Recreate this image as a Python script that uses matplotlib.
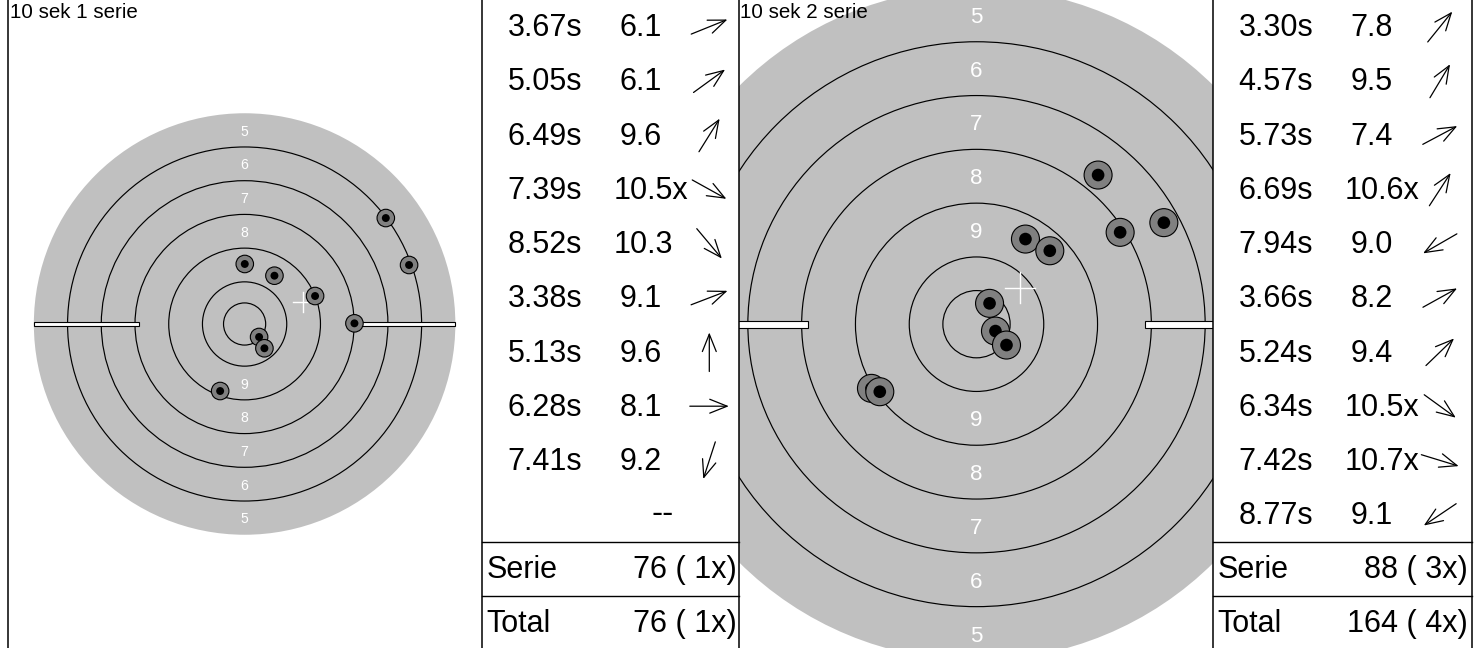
import matplotlib
matplotlib.use("Agg")
import matplotlib.pyplot as plt
from matplotlib.patches import Circle, Rectangle, FancyArrowPatch
import numpy as np

plt.rcParams['font.family'] = ['Liberation Sans', 'DejaVu Sans']

# ---------------- data ----------------
ring_radii_mm = [250, 210, 170, 130, 90, 50, 25]
ring_label_values = [5, 6, 7, 8, 9]

titles = ["10 sek 1 serie", "10 sek 2 serie"]

s1_times = ["3.67s", "5.05s", "6.49s", "7.39s", "8.52s", "3.38s", "5.13s", "6.28s", "7.41s"]
s1_scores = ["6.1", "6.1", "9.6", "10.5x", "10.3", "9.1", "9.6", "8.1", "9.2"]
s1_dir_deg = [22, 36, 58, -29, -50, 21, 90, 0, -108]
s1_x_mm = [167.5, 195.1, 0.2, 17.2, 23.5, 83.6, 35.4, 130.3, -29.0]
s1_y_mm = [125.7, 70.0, 71.2, -15.4, -28.8, 33.2, 57.3, 0.8, -79.5]

s2_times = ["3.30s", "4.57s", "5.73s", "6.69s", "7.94s", "3.66s", "5.24s", "6.34s", "7.42s", "8.77s"]
s2_scores = ["7.8", "9.5", "7.4", "10.6x", "9.0", "8.2", "9.4", "10.5x", "10.7x", "9.1"]
s2_dir_deg = [51, 59, 28, 57, 210, 29, 44, -36, -17, 214]
s2_x_mm = [90.4, 36.4, 139.3, 14.1, -78.1, 106.8, 54.5, 22.3, 9.7, -71.9]
s2_y_mm = [110.9, 63.3, 75.5, -5.1, -47.7, 68.3, 54.6, -15.5, 15.5, -50.2]

serie_sum = [76, 88]
serie_x = [1, 3]
total_sum = [76, 164]
total_x = [1, 4]
n_rows = 10

series = [
    dict(times=s1_times, scores=s1_scores, dirs=s1_dir_deg, x=s1_x_mm, y=s1_y_mm),
    dict(times=s2_times, scores=s2_scores, dirs=s2_dir_deg, x=s2_x_mm, y=s2_y_mm),
]

# ---------------- layout ----------------
W, H, DPI = 1478, 648, 100
fig = plt.figure(figsize=(W / DPI, H / DPI), dpi=DPI)
fig.patch.set_facecolor('white')

panel_bounds = [(8.3, 482.3), (739.0, 1213.0)]
table_bounds = [(482.3, 739.0), (1213.0, 1472.3)]
target_center = [(244.6, 324.0), (976.5, 324.2)]
target_scale = [0.843, 1.345]  # px per mm

SHOT_R = 10.4
DOT_R = 4.7
CROSS_HALF = 11.5
BAR_H = 5.5

for k in range(2):
    x0, x1 = panel_bounds[k]
    cx, cy = target_center[k]
    s = target_scale[k]
    ax = fig.add_axes([x0 / W, 0, (x1 - x0) / W, 1])
    ax.set_xlim((x0 - cx) / s, (x1 - cx) / s)
    ax.set_ylim(-(H - cy) / s, cy / s)
    ax.axis('off')

    ax.add_patch(Circle((0, 0), ring_radii_mm[0], fc='#c0c0c0', ec='none', zorder=1))
    for r in ring_radii_mm[1:]:
        ax.add_patch(Circle((0, 0), r, fc='none', ec='black', lw=0.85, zorder=2))
    for v, ro, ri in zip(ring_label_values, ring_radii_mm[:-1], ring_radii_mm[1:]):
        rm = (ro + ri) / 2
        for sign in (1, -1):
            ax.text(0, sign * rm, str(v), color='white', ha='center',
                    va='center_baseline', fontsize=12.0 * s, zorder=2)

    R = ring_radii_mm[0]
    ri = ring_radii_mm[3] - 5
    for xs in (ri, -R):
        ax.add_patch(Rectangle((xs, -BAR_H / 2), R - ri, BAR_H, fc='white',
                               ec='black', lw=0.8, zorder=3))

    d = series[k]
    mx, my = np.mean(d['x']), np.mean(d['y'])
    ax.plot([mx - CROSS_HALF, mx + CROSS_HALF], [my, my], color='white', lw=1.0, zorder=4)
    ax.plot([mx, mx], [my - CROSS_HALF, my + CROSS_HALF], color='white', lw=1.0, zorder=4)

    for x, y in zip(d['x'], d['y']):
        ax.add_patch(Circle((x, y), SHOT_R, fc='#808080', ec='black', lw=0.8, zorder=5))
        ax.add_patch(Circle((x, y), DOT_R, fc='black', ec='none', zorder=5))

# ---------------- overlay: tables, borders, titles ----------------
ov = fig.add_axes([0, 0, 1, 1])
ov.set_xlim(0, W)
ov.set_ylim(H, 0)
ov.axis('off')
ov.patch.set_visible(False)

FS = 22
row_h = 54.2
top = -0.3
for k in range(2):
    tl, tr = table_bounds[k]
    d = series[k]
    for i in range(n_rows):
        base = top + i * row_h + 36.6
        ymid = top + i * row_h + 27.1
        if i < len(d['times']):
            ov.text(tl + 25.4, base, d['times'][i], fontsize=FS, va='baseline', ha='left')
            sc = d['scores'][i]
            sx = tl + (131.3 if len(sc.split('.')[0]) > 1 else 137.5)
            ov.text(sx, base, sc, fontsize=FS, va='baseline', ha='left')
            a = np.deg2rad(d['dirs'][i])
            L = 39.0
            dx = L / 2 * np.cos(a)
            dy = -L / 2 * np.sin(a)
            acx = tl + 227
            ov.add_patch(FancyArrowPatch((acx - dx, ymid - dy), (acx + dx, ymid + dy),
                                         arrowstyle='->,head_length=1.25,head_width=0.5',
                                         mutation_scale=10, lw=0.9, color='black',
                                         shrinkA=0, shrinkB=0))
        else:
            ov.text(tl + 180.5, base - 1, '--', fontsize=FS + 2, va='baseline', ha='center')
    for j in (10, 11):
        y = top + j * row_h
        ov.plot([tl, tr], [y, y], color='black', lw=1.0)
    b1 = top + 10 * row_h + 36.6
    b2 = top + 11 * row_h + 36.0
    ov.text(tl + 4.4, b1, 'Serie', fontsize=FS, va='baseline', ha='left')
    ov.text(tl + 254.4, b1, "%d (%2dx)" % (serie_sum[k], serie_x[k]), fontsize=FS,
            va='baseline', ha='right')
    ov.text(tl + 4.4, b2, 'Total', fontsize=FS, va='baseline', ha='left')
    ov.text(tl + 254.4, b2, "%d (%2dx)" % (total_sum[k], total_x[k]), fontsize=FS,
            va='baseline', ha='right')

for x in (8.3, 482.3, 739.0, 1213.0, 1472.3):
    ov.plot([x, x], [0, H], color='black', lw=1.1)

for k in range(2):
    x0 = panel_bounds[k][0]
    ov.text(x0 + 1.4, 18.0, titles[k], fontsize=14.8, va='baseline', ha='left', zorder=10)

fig.savefig('out.png', dpi=DPI)
